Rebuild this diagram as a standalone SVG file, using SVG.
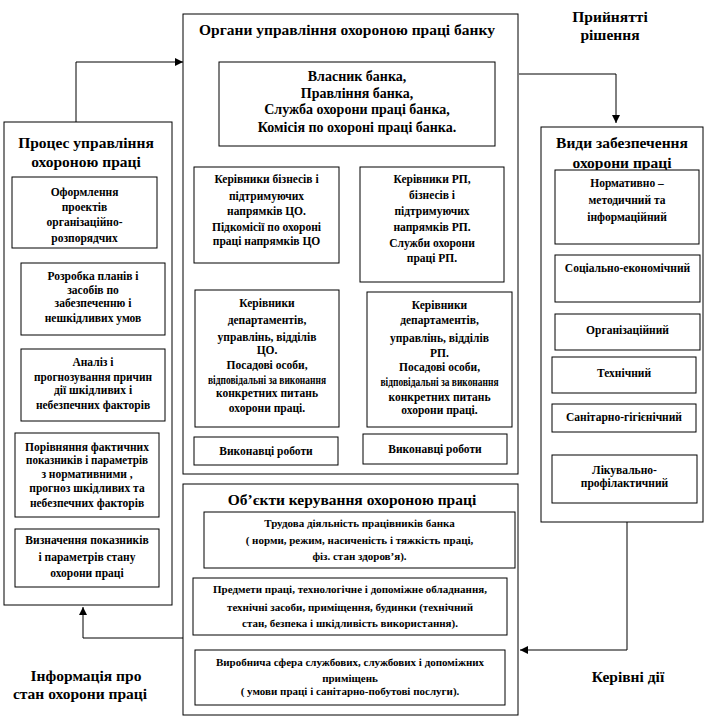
<svg xmlns="http://www.w3.org/2000/svg" width="705" height="726" viewBox="0 0 705 726">
<style>
.box{fill:#fff;stroke:#000;stroke-width:1}
.ln{fill:none;stroke:#000;stroke-width:1}
text{font-family:'Liberation Serif','Times New Roman',Tinos,'DejaVu Serif',serif;font-weight:bold;text-anchor:middle;fill:#000}
.h{font-size:15.5px}
.m{font-size:14px}
.s{font-size:11.5px}
.xs{font-size:11px}
</style>
<defs>
<marker id="ar" viewBox="0 0 10 10" refX="10" refY="5" markerWidth="8" markerHeight="8" markerUnits="userSpaceOnUse" orient="auto">
<path d="M0,0 L10,5 L0,10 z" fill="#000"/>
</marker>
</defs>
<rect width="705" height="726" fill="#fff"/>

<g id="connectors">
<polyline class="ln" points="76,122 76,62 183,62" marker-end="url(#ar)"/>
<polyline class="ln" points="519,74 616,74 616,123" marker-end="url(#ar)"/>
<polyline class="ln" points="627,522 627,650 520,650" marker-end="url(#ar)"/>
<polyline class="ln" points="183,638 83,638 83,607" marker-end="url(#ar)"/>
</g>

<g id="label-decision">
<text class="h" x="610" y="22">Прийнятті</text>
<text class="h" x="610" y="40">рішення</text>
</g>
<g id="label-info">
<text class="h" x="86" y="681">Інформація про</text>
<text class="h" x="80" y="699">стан охорони праці</text>
</g>
<g id="label-actions">
<text class="h" x="628" y="682">Керівні дії</text>
</g>

<g id="process">
<rect class="box" x="4" y="122" width="168" height="483"/>
<text class="h" x="86" y="148">Процес управління</text>
<text class="h" x="86" y="167">охороною праці</text>
</g>
<g id="p1">
<rect class="box" x="12" y="177" width="145" height="71"/>
<text class="s" x="84.5" y="196">Оформлення</text>
<text class="s" x="84.5" y="211">проектів</text>
<text class="s" x="84.5" y="226">організаційно-</text>
<text class="s" x="84.5" y="242">розпорядчих</text>
</g>
<g id="p2">
<rect class="box" x="21" y="263" width="144" height="72"/>
<text class="s" x="93" y="280">Розробка планів і</text>
<text class="s" x="93" y="294">засобів по</text>
<text class="s" x="93" y="307">забезпеченню і</text>
<text class="s" x="93" y="322">нешкідливих умов</text>
</g>
<g id="p3">
<rect class="box" x="21" y="349" width="144" height="72"/>
<text class="s" x="93" y="366">Аналіз і</text>
<text class="s" x="93" y="381" textLength="118" lengthAdjust="spacingAndGlyphs">прогнозування причин</text>
<text class="s" x="93" y="394">дії шкідливих і</text>
<text class="s" x="93" y="409">небезпечних факторів</text>
</g>
<g id="p4">
<rect class="box" x="15" y="433" width="144" height="84"/>
<text class="s" x="87" y="451">Порівняння фактичних</text>
<text class="s" x="87" y="464" textLength="122" lengthAdjust="spacingAndGlyphs">показників і параметрів</text>
<text class="s" x="87" y="478">з нормативними ,</text>
<text class="s" x="87" y="492">прогноз шкідливих та</text>
<text class="s" x="87" y="507">небезпечних факторів</text>
</g>
<g id="p5">
<rect class="box" x="15" y="529" width="144" height="58"/>
<text class="s" x="87" y="544">Визначення показників</text>
<text class="s" x="87" y="561">і параметрів стану</text>
<text class="s" x="87" y="577">охорони праці</text>
</g>

<g id="organs">
<rect class="box" x="183" y="14" width="335" height="460"/>
<text class="h" x="347" y="35">Органи управління охороною праці банку</text>
</g>
<g id="owner">
<rect class="box" x="219" y="62" width="276" height="84"/>
<text class="m" x="357" y="81">Власник банка,</text>
<text class="m" x="357" y="98">Правління банка,</text>
<text class="m" x="357" y="114">Служба охорони праці банка,</text>
<text class="m" x="357" y="132">Комісія по охороні праці банка.</text>
</g>
<g id="heads-co">
<rect class="box" x="194" y="167" width="145" height="96"/>
<text class="s" x="266.5" y="183">Керівники бізнесів і</text>
<text class="s" x="266.5" y="200">підтримуючих</text>
<text class="s" x="266.5" y="215">напрямків ЦО.</text>
<text class="s" x="266.5" y="231">Підкомісії по охороні</text>
<text class="s" x="266.5" y="245">праці напрямків ЦО</text>
</g>
<g id="heads-rp">
<rect class="box" x="360" y="167" width="144" height="115"/>
<text class="s" x="432" y="183">Керівники РП,</text>
<text class="s" x="432" y="199">бізнесів і</text>
<text class="s" x="432" y="215">підтримуючих</text>
<text class="s" x="432" y="231">напрямків РП.</text>
<text class="s" x="432" y="247">Служби охорони</text>
<text class="s" x="432" y="262">праці РП.</text>
</g>
<g id="dept-co">
<rect class="box" x="195" y="290" width="144" height="137"/>
<text class="s" x="267" y="307">Керівники</text>
<text class="s" x="267" y="324">департаментів,</text>
<text class="s" x="267" y="341">управлінь, відділів</text>
<text class="s" x="267" y="354">ЦО.</text>
<text class="s" x="267" y="369">Посадові особи,</text>
<text class="s" x="267" y="384" textLength="118" lengthAdjust="spacingAndGlyphs">відповідальні за виконання</text>
<text class="s" x="267" y="397">конкретних питань</text>
<text class="s" x="267" y="412">охорони праці.</text>
</g>
<g id="dept-rp">
<rect class="box" x="367" y="292" width="145" height="135"/>
<text class="s" x="439.5" y="309">Керівники</text>
<text class="s" x="439.5" y="324">департаментів,</text>
<text class="s" x="439.5" y="342">управлінь, відділів</text>
<text class="s" x="439.5" y="357">РП.</text>
<text class="s" x="439.5" y="371">Посадові особи,</text>
<text class="s" x="439.5" y="386" textLength="118" lengthAdjust="spacingAndGlyphs">відповідальні за виконання</text>
<text class="s" x="439.5" y="401">конкретних питань</text>
<text class="s" x="439.5" y="414">охорони праці.</text>
</g>
<g id="exec-co">
<rect class="box" x="194" y="437" width="144" height="28"/>
<text class="s" x="266" y="455">Виконавці роботи</text>
</g>
<g id="exec-rp">
<rect class="box" x="363" y="434" width="144" height="30"/>
<text class="s" x="435" y="453">Виконавці роботи</text>
</g>

<g id="types">
<rect class="box" x="541" y="127" width="162" height="395"/>
<text class="h" x="622" y="148">Види забезпечення</text>
<text class="h" x="622" y="168">охорони праці</text>
</g>
<g id="t1">
<rect class="box" x="555" y="170" width="144" height="74"/>
<text class="s" x="627" y="187">Нормативно –</text>
<text class="s" x="627" y="204">методичний та</text>
<text class="s" x="627" y="221">інформаційний</text>
</g>
<g id="t2">
<rect class="box" x="555" y="255" width="145" height="47"/>
<text class="s" x="627.5" y="272">Соціально-економічний</text>
</g>
<g id="t3">
<rect class="box" x="555" y="314" width="145" height="36"/>
<text class="s" x="627.5" y="334">Організаційний</text>
</g>
<g id="t4">
<rect class="box" x="552" y="357" width="144" height="36"/>
<text class="s" x="624" y="377">Технічний</text>
</g>
<g id="t5">
<rect class="box" x="552" y="404" width="144" height="28"/>
<text class="s" x="624" y="421">Санітарно-гігієнічний</text>
</g>
<g id="t6">
<rect class="box" x="552" y="455" width="145" height="48"/>
<text class="s" x="624.5" y="474">Лікувально-</text>
<text class="s" x="624.5" y="487">профілактичний</text>
</g>

<g id="objects">
<rect class="box" x="183" y="484" width="335" height="231"/>
<text class="h" x="352" y="505">Об’єкти керування охороною праці</text>
</g>
<g id="o1">
<rect class="box" x="204" y="512" width="311" height="56"/>
<text class="xs" x="359.5" y="527">Трудова діяльність працівників банка</text>
<text class="xs" x="359.5" y="544">( норми, режим, насиченість і тяжкість праці,</text>
<text class="xs" x="359.5" y="560">фіз. стан здоров’я).</text>
</g>
<g id="o2">
<rect class="box" x="193" y="578" width="314" height="57"/>
<text class="xs" x="350" y="593">Предмети праці, технологічне і допоміжне обладнання,</text>
<text class="xs" x="350" y="611">технічні засоби, приміщення, будинки (технічний</text>
<text class="xs" x="350" y="627">стан, безпека і шкідливість використання).</text>
</g>
<g id="o3">
<rect class="box" x="195" y="650" width="310" height="55"/>
<text class="xs" x="350" y="666">Виробнича сфера службових, службових і допоміжних</text>
<text class="xs" x="350" y="682">приміщень</text>
<text class="xs" x="350" y="695">( умови праці і санітарно-побутові послуги).</text>
</g>
</svg>
